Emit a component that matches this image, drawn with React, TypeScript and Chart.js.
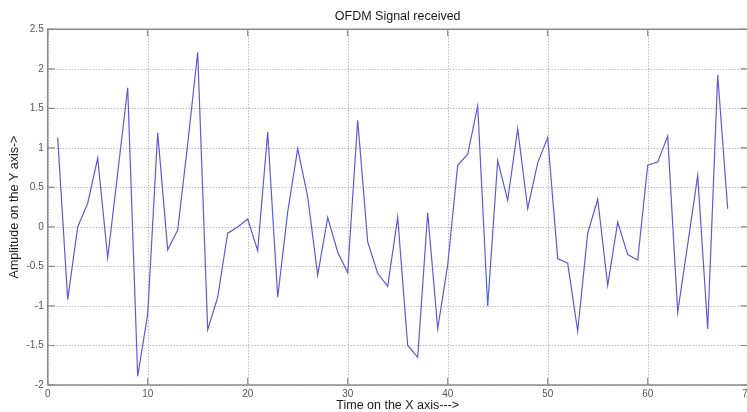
import React, { useEffect, useRef } from "react";
import { Chart, registerables } from "chart.js";

Chart.register(...registerables);

const chartTitle = "OFDM Signal received";
const xAxisTitle = "Time on the X axis--->";
const yAxisTitle = "Amplitude on the Y axis->";

const timeIndex = [
  1, 2, 3, 4, 5, 6, 7, 8, 9, 10, 11, 12, 13, 14, 15, 16, 17, 18, 19, 20, 21, 22, 23, 24,
  25, 26, 27, 28, 29, 30, 31, 32, 33, 34, 35, 36, 37, 38, 39, 40, 41, 42, 43, 44, 45, 46,
  47, 48, 49, 50, 51, 52, 53, 54, 55, 56, 57, 58, 59, 60, 61, 62, 63, 64, 65, 66, 67, 68,
];

const amplitude = [
  1.13, -0.92, 0.0, 0.3, 0.87, -0.39, 0.68, 1.76, -1.89, -1.1, 1.19, -0.29, -0.04, 1.05,
  2.21, -1.3, -0.89, -0.08, 0.0, 0.1, -0.3, 1.2, -0.89, 0.19, 0.99, 0.38, -0.61, 0.12,
  -0.32, -0.58, 1.35, -0.19, -0.59, -0.75, 0.12, -1.5, -1.65, 0.18, -1.29, -0.48, 0.78,
  0.92, 1.53, -1.0, 0.84, 0.34, 1.24, 0.23, 0.81, 1.13, -0.4, -0.46, -1.32, -0.08, 0.35,
  -0.74, 0.06, -0.35, -0.42, 0.78, 0.82, 1.15, -1.08, -0.22, 0.65, -1.29, 1.92, 0.23,
];

const xMin = 0;
const xMax = 70;
const xStep = 10;
const yMin = -2;
const yMax = 2.5;
const yStep = 0.5;

const FONT = "'Liberation Sans', Arial, sans-serif";

const gridPlugin = {
  id: "dottedGrid",
  beforeDatasetsDraw(chart: any) {
    const { ctx, chartArea, scales } = chart;
    const { left, right, top, bottom } = chartArea;
    ctx.save();
    ctx.strokeStyle = "#9a9a9a";
    ctx.lineWidth = 1;
    ctx.setLineDash([1, 2]);
    scales.x.ticks.forEach((t: any) => {
      const px = Math.round(scales.x.getPixelForValue(t.value)) + 0.5;
      ctx.beginPath();
      ctx.moveTo(px, top);
      ctx.lineTo(px, bottom);
      ctx.stroke();
    });
    scales.y.ticks.forEach((t: any) => {
      const py = Math.round(scales.y.getPixelForValue(t.value)) + 0.5;
      ctx.beginPath();
      ctx.moveTo(left, py);
      ctx.lineTo(right, py);
      ctx.stroke();
    });
    ctx.restore();
  },
};

const framePlugin = {
  id: "matlabFrame",
  afterDraw(chart: any) {
    const { ctx, chartArea, scales } = chart;
    const { left, right, top, bottom } = chartArea;
    ctx.save();
    ctx.strokeStyle = "#8a8a8a";
    ctx.lineWidth = 1.5;
    ctx.beginPath();
    ctx.moveTo(left, bottom);
    ctx.lineTo(left, top);
    ctx.lineTo(right, top);
    ctx.lineTo(right, bottom);
    ctx.lineTo(left, bottom);
    ctx.stroke();
    ctx.lineWidth = 1.2;
    const tl = 7;
    scales.x.ticks.forEach((t: any) => {
      const px = scales.x.getPixelForValue(t.value);
      ctx.beginPath();
      ctx.moveTo(px, bottom);
      ctx.lineTo(px, bottom - tl);
      ctx.moveTo(px, top);
      ctx.lineTo(px, top + tl);
      ctx.stroke();
    });
    scales.y.ticks.forEach((t: any) => {
      const py = scales.y.getPixelForValue(t.value);
      ctx.beginPath();
      ctx.moveTo(left, py);
      ctx.lineTo(left + tl, py);
      ctx.moveTo(right, py);
      ctx.lineTo(right - tl, py);
      ctx.stroke();
    });
    const cx = (left + right) / 2;
    ctx.fillStyle = "#1a1a1a";
    ctx.textAlign = "center";
    ctx.textBaseline = "middle";
    ctx.font = `12.5px ${FONT}`;
    ctx.fillText(chartTitle, cx, 17);
    ctx.fillText(xAxisTitle, cx, 406);
    ctx.translate(15, 207);
    ctx.rotate(-Math.PI / 2);
    ctx.fillText(yAxisTitle, 0, 0);
    ctx.restore();
  },
};

export default function App() {
  const ref = useRef<HTMLCanvasElement | null>(null);

  useEffect(() => {
    document.body.style.margin = "0";
    const canvas = ref.current;
    if (!canvas) return;
    const chart = new Chart(canvas, {
      type: "line",
      data: {
        datasets: [
          {
            data: timeIndex.map((t, i) => ({ x: t, y: amplitude[i] })),
            borderColor: "rgb(92, 92, 212)",
            borderWidth: 1.2,
            pointRadius: 0,
            tension: 0,
            fill: false,
          },
        ],
      },
      options: {
        animation: false,
        responsive: false,
        devicePixelRatio: 1,
        layout: { padding: { top: 29.3, right: 22.3, left: 0, bottom: 0 } },
        plugins: {
          legend: { display: false },
          title: { display: false },
          tooltip: { enabled: false },
        },
        scales: {
          x: {
            type: "linear",
            min: xMin,
            max: xMax,
            afterFit: (s: any) => {
              s.height = 27;
            },
            ticks: {
              stepSize: xStep,
              padding: 3,
              color: "#555",
              font: { family: FONT, size: 10 },
              maxRotation: 0,
            },
            grid: { display: false, drawTicks: false, tickLength: 0 },
            border: { display: false },
          },
          y: {
            type: "linear",
            min: yMin,
            max: yMax,
            afterFit: (s: any) => {
              s.width = 47.7;
            },
            ticks: {
              stepSize: yStep,
              padding: 4,
              color: "#555",
              font: { family: FONT, size: 10 },
              callback: (v: any) => String(Number(v)),
            },
            grid: { display: false, drawTicks: false, tickLength: 0 },
            border: { display: false },
          },
        },
      },
      plugins: [gridPlugin, framePlugin],
    } as any);
    return () => chart.destroy();
  }, []);

  return (
    <div
      style={{
        position: "fixed",
        left: 0,
        top: 0,
        width: 747,
        height: 412,
        overflow: "hidden",
        background: "#fff",
      }}
    >
      <canvas ref={ref} width={770} height={412} style={{ display: "block" }} />
    </div>
  );
}
